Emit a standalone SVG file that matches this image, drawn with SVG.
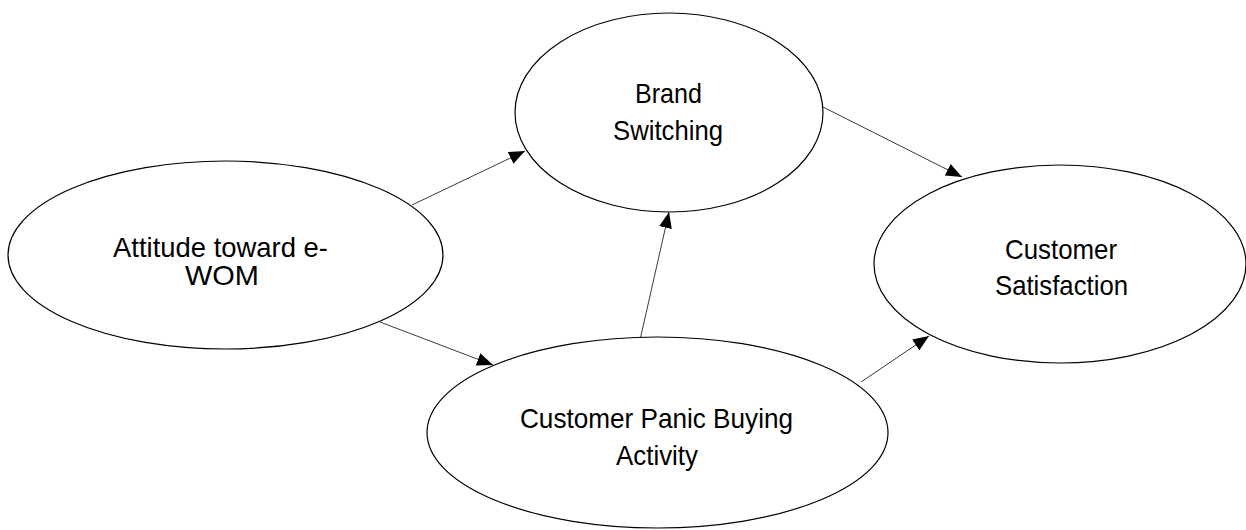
<svg xmlns="http://www.w3.org/2000/svg" width="1246" height="530" viewBox="0 0 1246 530">
  <defs>
    <style>
      .node ellipse { fill: #ffffff; stroke: #000000; stroke-width: 1.2; }
      .node text { font-family: "Liberation Sans", Arial, sans-serif; font-size: 28px; fill: #000000; text-anchor: middle; }
      .edge { stroke: #3a3a3a; stroke-width: 1; fill: none; marker-end: url(#arrow); }
    </style>
    <marker id="arrow" markerUnits="userSpaceOnUse" markerWidth="17" markerHeight="14" refX="16" refY="6.5" orient="auto">
      <path d="M0,0 L16,6.5 L0,13 Z" fill="#000000"/>
    </marker>
  </defs>
  <rect width="1246" height="530" fill="#ffffff"/>

  <!-- connectors -->
  <g id="connectors">
    <line class="edge" x1="412" y1="205" x2="525" y2="151"/>
    <line class="edge" x1="380" y1="322" x2="493" y2="365"/>
    <line class="edge" x1="640" y1="340" x2="669" y2="212"/>
    <line class="edge" x1="823" y1="107" x2="962" y2="177"/>
    <line class="edge" x1="861" y1="382" x2="929" y2="336"/>
  </g>

  <!-- nodes -->
  <g id="node-brand-switching" class="node">
    <ellipse cx="669" cy="112.5" rx="154" ry="99.5"/>
    <text x="668.5" y="103" textLength="67" lengthAdjust="spacingAndGlyphs">Brand</text>
    <text x="668" y="140" textLength="110" lengthAdjust="spacingAndGlyphs">Switching</text>
  </g>

  <g id="node-attitude-ewom" class="node">
    <ellipse cx="225.5" cy="255" rx="217.5" ry="94"/>
    <text x="220.5" y="257" textLength="215" lengthAdjust="spacingAndGlyphs">Attitude toward e-</text>
    <text x="222" y="285" textLength="74" lengthAdjust="spacingAndGlyphs">WOM</text>
  </g>

  <g id="node-customer-satisfaction" class="node">
    <ellipse cx="1060" cy="264" rx="186" ry="99"/>
    <text x="1061" y="259" textLength="112" lengthAdjust="spacingAndGlyphs">Customer</text>
    <text x="1061.5" y="295" textLength="133" lengthAdjust="spacingAndGlyphs">Satisfaction</text>
  </g>

  <g id="node-panic-buying" class="node">
    <ellipse cx="657.5" cy="432.5" rx="230.5" ry="95.5"/>
    <text x="656.5" y="428" textLength="273" lengthAdjust="spacingAndGlyphs">Customer Panic Buying</text>
    <text x="657" y="465" textLength="82" lengthAdjust="spacingAndGlyphs">Activity</text>
  </g>
</svg>
